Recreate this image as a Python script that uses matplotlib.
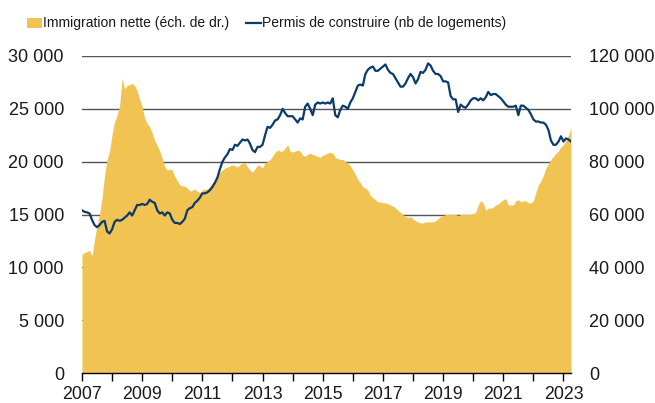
import numpy as np
import matplotlib
matplotlib.use("Agg")
import matplotlib.pyplot as plt
from matplotlib.patches import Rectangle
from matplotlib.lines import Line2D

plt.rcParams['font.family'] = ['Liberation Sans', 'DejaVu Sans']

start_year = 2007
# Monthly series, Jan 2007 .. Apr 2023
immigration_k = [
    44.8, 45.6, 46.0, 46.4, 44.4, 50.4, 56.0, 60.0, 66.4, 74.8, 80.8, 84.0,
    90.4, 95.2, 97.6, 101.2, 111.6, 107.6, 108.8, 109.2, 109.6, 108.8, 106.8, 103.6,
    100.8, 96.4, 94.4, 93.2, 90.8, 88.0, 86.0, 84.0, 81.2, 78.0, 76.8, 77.2,
    76.8, 74.4, 72.8, 71.2, 70.8, 70.8, 70.0, 68.8, 69.2, 69.6, 68.8, 68.4,
    69.2, 69.6, 69.6, 70.8, 72.0, 73.2, 74.8, 76.0, 76.8, 77.6, 78.0, 78.4,
    78.8, 78.4, 78.0, 78.8, 79.6, 79.6, 78.0, 76.8, 76.0, 77.2, 78.8, 78.4,
    77.6, 79.6, 80.0, 80.8, 82.0, 83.6, 84.4, 84.0, 84.0, 85.2, 86.4, 84.0,
    83.6, 84.0, 84.4, 84.0, 82.4, 82.0, 82.8, 83.2, 82.8, 82.4, 82.0, 81.6,
    82.4, 82.8, 83.2, 83.6, 83.2, 81.6, 81.2, 80.8, 80.8, 80.0, 79.6, 78.4,
    76.8, 75.2, 73.2, 72.0, 70.4, 70.0, 69.2, 67.2, 66.4, 65.6, 64.8, 64.8,
    64.4, 64.4, 64.0, 63.6, 63.2, 62.4, 61.6, 60.8, 60.0, 59.2, 58.8, 59.2,
    58.4, 57.6, 57.2, 56.8, 56.8, 57.2, 57.2, 57.2, 57.2, 57.6, 58.4, 59.2,
    59.6, 60.0, 60.0, 60.0, 60.0, 60.0, 59.6, 60.0, 60.0, 60.0, 60.0, 60.0,
    60.4, 60.8, 63.6, 65.2, 64.4, 61.6, 62.4, 62.4, 62.8, 63.6, 64.0, 64.8,
    65.6, 66.0, 63.6, 63.6, 63.6, 65.2, 65.6, 64.8, 65.2, 65.2, 64.4, 64.4,
    65.2, 68.4, 71.2, 72.8, 74.8, 77.6, 79.2, 80.8, 82.0, 83.2, 84.0, 85.6,
    86.4, 88.0, 90.0, 92.8,
]
permits_k = [
    15.4, 15.25, 15.2, 15.1, 14.5, 14.0, 13.8, 14.0, 14.3, 14.4, 13.4, 13.2,
    13.6, 14.3, 14.5, 14.4, 14.5, 14.7, 14.9, 15.2, 14.9, 15.4, 15.9, 15.9,
    16.0, 15.9, 16.0, 16.4, 16.2, 16.1, 15.4, 15.1, 15.2, 14.9, 15.2, 15.1,
    14.5, 14.2, 14.2, 14.1, 14.3, 14.6, 15.4, 15.6, 15.7, 16.1, 16.3, 16.6,
    17.0, 17.0, 17.1, 17.3, 17.6, 18.0, 18.5, 19.3, 20.0, 20.4, 20.7, 21.2,
    21.1, 21.6, 21.5, 21.8, 22.1, 22.0, 22.1, 21.7, 21.1, 20.9, 21.4, 21.4,
    21.6, 22.5, 23.3, 23.2, 23.5, 23.9, 24.0, 24.4, 25.0, 24.6, 24.3, 24.3,
    24.3, 24.0, 23.7, 24.1, 24.0, 25.2, 25.5, 25.0, 24.4, 25.4, 25.6, 25.5,
    25.6, 25.5, 25.6, 25.5, 26.0, 24.4, 24.2, 24.9, 25.3, 25.2, 25.0, 25.6,
    26.0, 26.6, 27.2, 27.3, 27.2, 28.3, 28.7, 28.9, 29.0, 28.6, 28.6, 28.8,
    29.0, 29.2, 28.7, 28.4, 28.3, 27.9, 27.5, 27.1, 27.1, 27.4, 27.9, 28.3,
    28.0, 27.4, 27.8, 28.5, 28.4, 28.7, 29.3, 29.1, 28.6, 28.3, 28.3, 28.1,
    27.6, 27.6, 27.5, 26.2, 25.9, 25.9, 24.7, 25.4, 25.2, 25.1, 25.4, 25.8,
    26.0, 26.0, 25.8, 26.0, 25.8, 26.1, 26.6, 26.3, 26.4, 26.4, 26.2, 26.0,
    25.7, 25.4, 25.2, 25.2, 25.2, 25.3, 24.4, 25.3, 25.3, 25.1, 24.9, 24.5,
    24.0, 23.8, 23.8, 23.7, 23.7, 23.5, 23.0, 22.0, 21.6, 21.6, 21.9, 22.4,
    21.9, 22.2, 22.1, 21.9,
]
left_ticks = [0, 5000, 10000, 15000, 20000, 25000, 30000]
right_ticks = [0, 20000, 40000, 60000, 80000, 100000, 120000]
year_labels = [2007, 2009, 2011, 2013, 2015, 2017, 2019, 2021, 2023]
legend_labels = ["Immigration nette (éch. de dr.)", "Permis de construire (nb de logements)"]

immigration = np.array(immigration_k) * 1000
permits = np.array(permits_k) * 1000
t = start_year + np.arange(len(permits)) / 12.0

AREA = '#F1C353'
LINE = '#0B3B69'
TXT = '#1a1a1a'
GRID = '#555555'

fig = plt.figure(figsize=(6.55, 4.03), dpi=100)
ax = fig.add_axes([82/655, 1-373/403, (571-82)/655, (373-56)/403])
ax2 = ax.twinx()

# right axis (area) below, left axis (line) on top
ax.set_zorder(ax2.get_zorder() + 1)
ax.patch.set_visible(False)

ax2.fill_between(t, 0, immigration, color=AREA, linewidth=0, zorder=2)
for v in right_ticks[1:]:
    ax2.axhline(v, color=GRID, linewidth=1.0, zorder=1)
ax2.set_ylim(0, 120000)
ax2.set_yticks(right_ticks)
ax2.set_yticklabels([f"{v:,}".replace(",", " ") for v in right_ticks])

ax.plot(t, permits, color=LINE, linewidth=1.6, zorder=3)
ax.set_ylim(0, 30000)
ax.set_yticks(left_ticks)
ax.set_yticklabels([f"{v:,}".replace(",", " ") for v in left_ticks])
ax.set_xlim(start_year, t[-1])
ax.set_xticks(np.arange(2007, 2024))
ax.set_xticklabels([str(y) if y in year_labels else "" for y in range(2007, 2024)])

for a in (ax, ax2):
    for s in ('top', 'left', 'right', 'bottom'):
        a.spines[s].set_visible(False)
ax.spines['bottom'].set_visible(True)
ax.spines['bottom'].set_color('#000000')
ax.spines['bottom'].set_linewidth(1.0)

ax.tick_params(axis='y', length=0, pad=13, labelsize=13, labelcolor=TXT)
ax2.tick_params(axis='y', length=0, pad=13, labelsize=13, labelcolor=TXT)
ax.tick_params(axis='x', length=6, width=1, color='#000000', direction='out',
               pad=3.5, labelsize=12.8, labelcolor=TXT)

# legend
fig.patches.append(Rectangle((27/655, 1-28/403), 15/655, 10/403, transform=fig.transFigure,
                             color=AREA, linewidth=0))
fig.text(43/655, 1-23/403, legend_labels[0], fontsize=10, color=TXT, va='center', ha='left')
fig.lines.append(Line2D([246/655, 261/655], [1-23/403, 1-23/403], transform=fig.transFigure,
                        color=LINE, linewidth=1.6))
fig.text(262/655, 1-23/403, legend_labels[1], fontsize=10, color=TXT, va='center', ha='left')

fig.savefig("out.png", dpi=100)
